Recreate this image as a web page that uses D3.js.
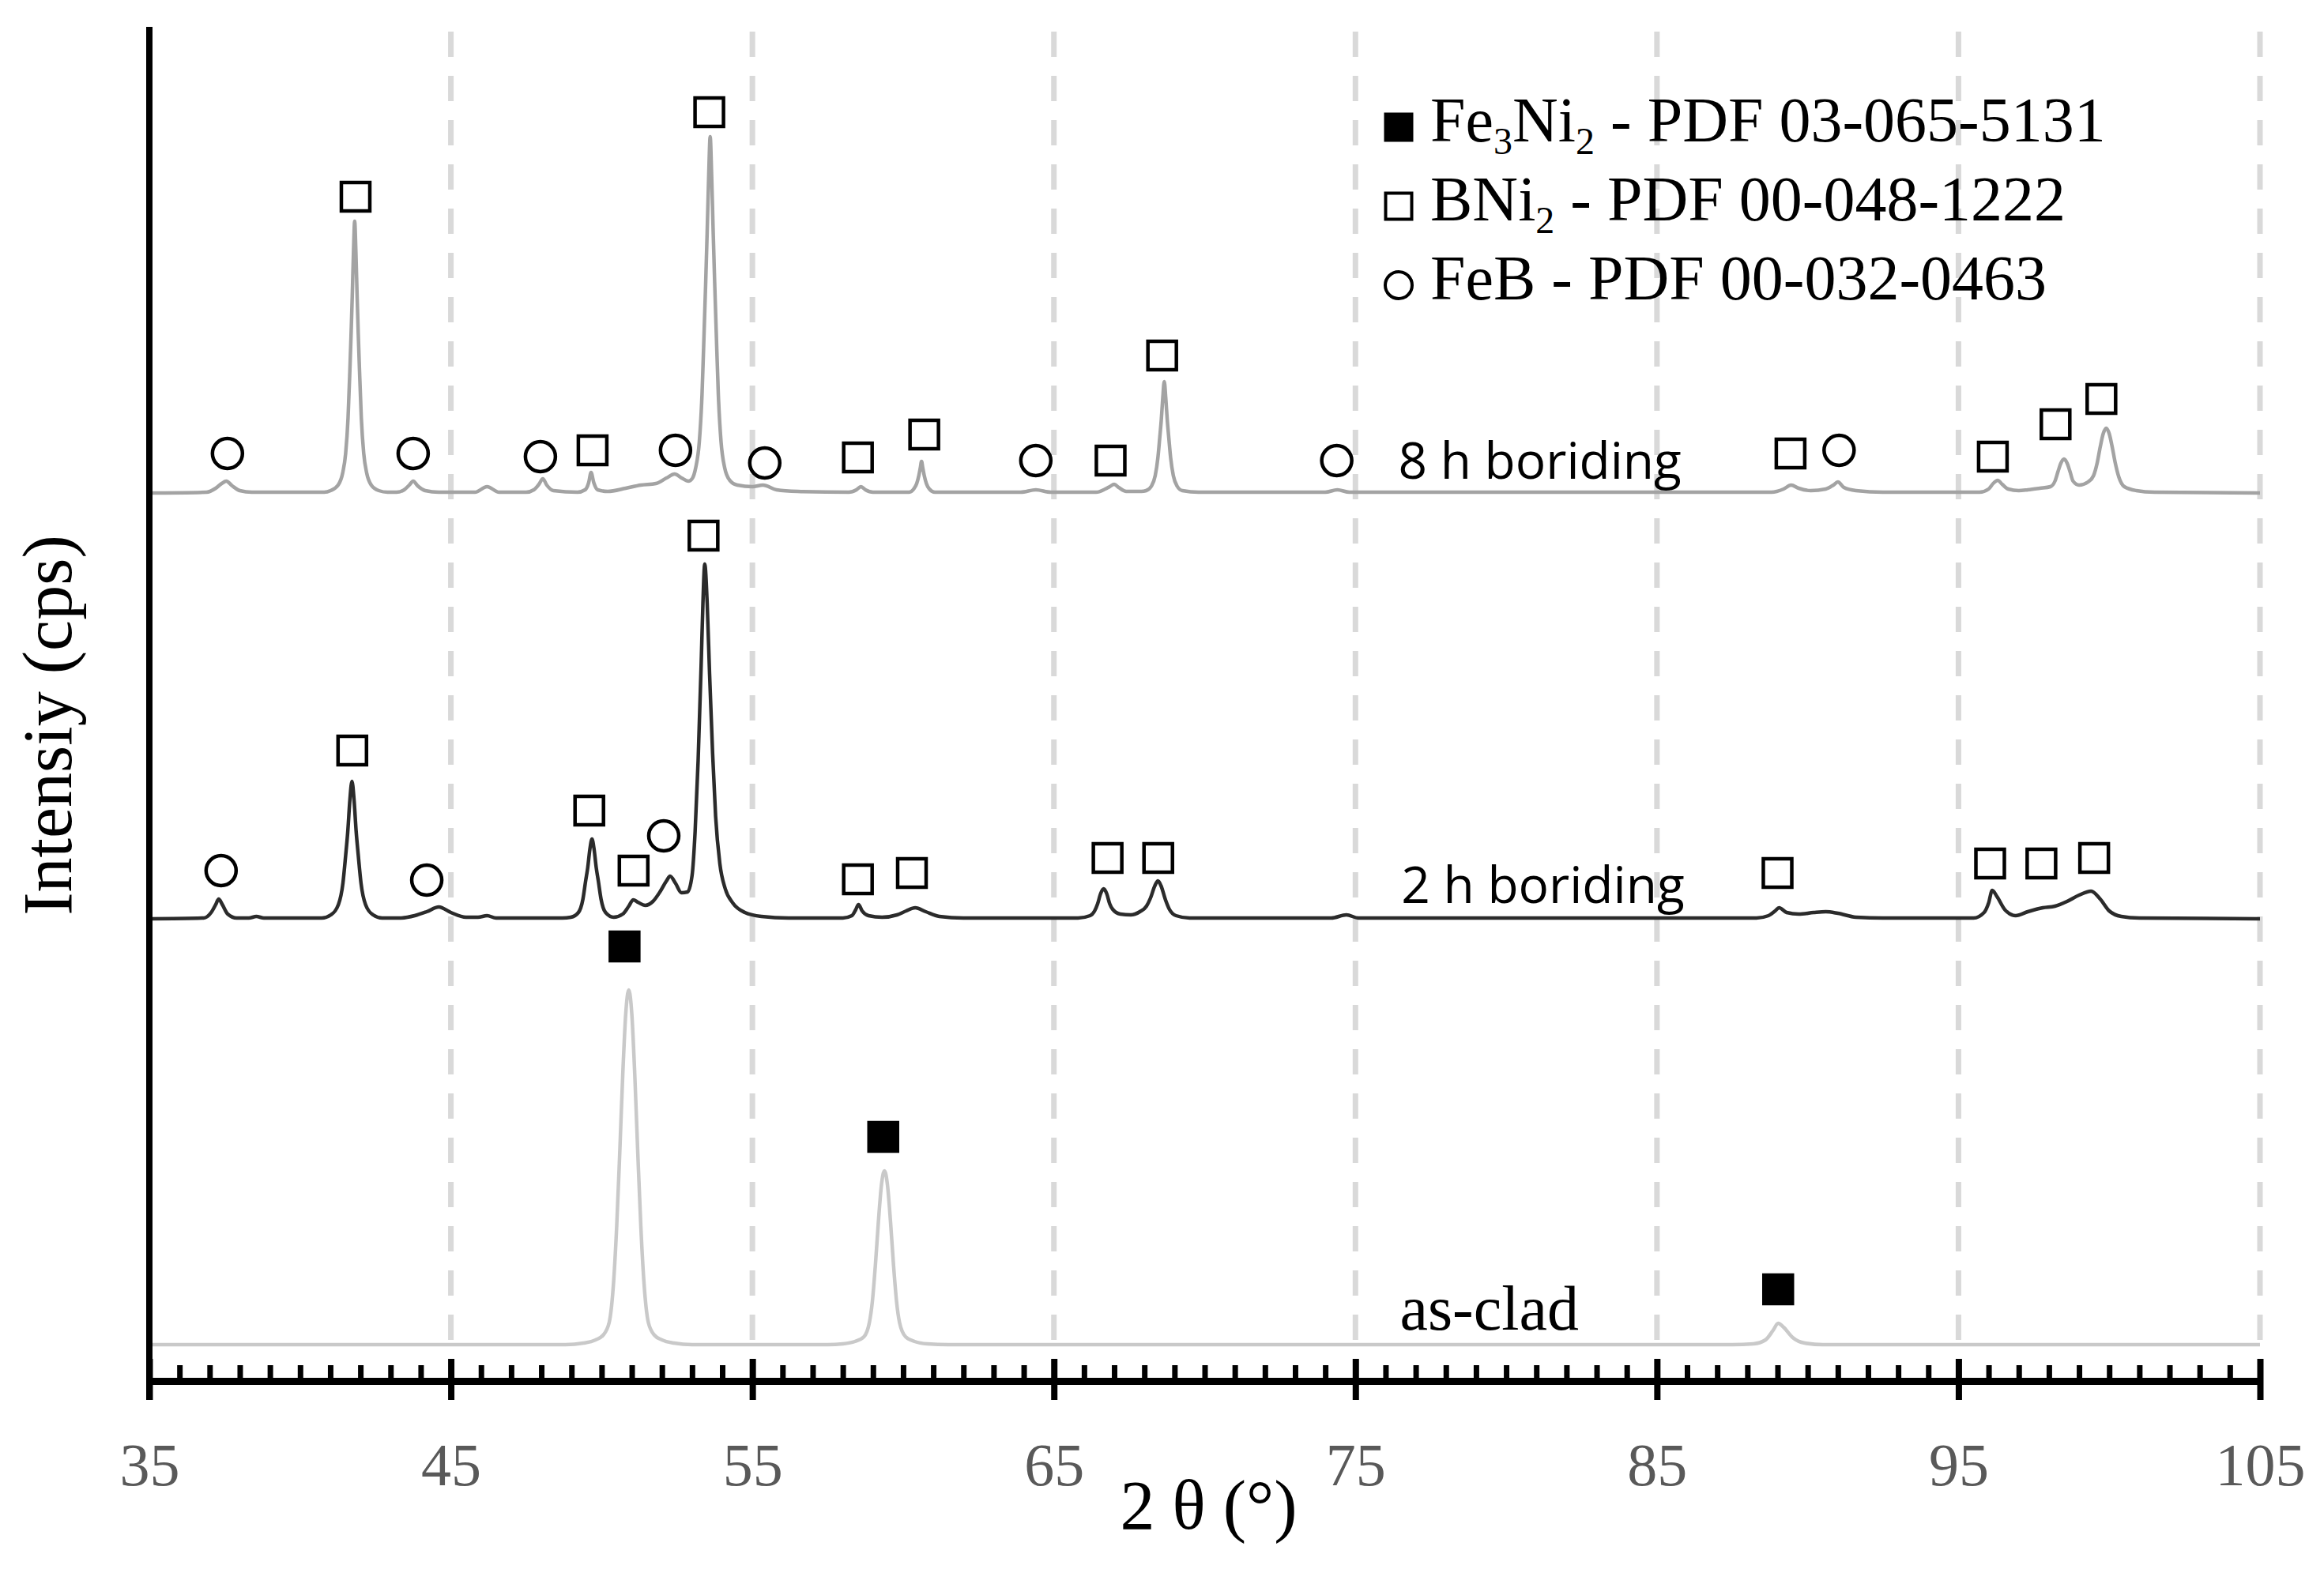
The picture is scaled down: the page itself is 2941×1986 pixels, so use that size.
<!DOCTYPE html>
<html>
<head>
<meta charset="utf-8">
<script src="https://cdn.jsdelivr.net/npm/d3@7"></script>
<style>
  html, body { margin: 0; padding: 0; background: #fff; }
  svg { display: block; }
</style>
</head>
<body>
<svg id="chart"></svg>
<script>
const width = 2941;
const height = 1986;

// 2θ axis
const majorTicks = [35, 45, 55, 65, 75, 85, 95, 105];
const minorTicks = [];
for (let t = 36; t < 105; t++) if (t % 10 !== 5) minorTicks.push(t);

// vertical offset of each stacked pattern (cps)
const offsetAsClad = 0;
const offset2h = 539;
const offset8h = 1078;

// as-clad pattern [2θ, cps above its baseline]
const asClad = [
  [35, 0], [40, 0], [45, 0], [48.8, 0], [49.4, 2], [49.8, 6], [50.05, 12], [50.25, 28], [50.4, 81],
  [50.5, 150], [50.6, 242], [50.7, 341], [50.8, 419], [50.9, 449], [51.0, 419], [51.1, 341],
  [51.2, 242], [51.3, 150], [51.4, 81], [51.55, 28], [51.75, 12], [52.0, 6], [52.4, 2], [53, 0],
  [57.5, 0], [58.0, 1], [58.4, 4], [58.7, 10], [58.88, 28], [58.98, 55], [59.08, 101], [59.18, 156],
  [59.28, 202], [59.38, 220], [59.48, 202], [59.58, 156], [59.68, 101], [59.78, 55], [59.88, 28],
  [60.08, 10], [60.38, 4], [60.8, 1], [61.5, 0],
  [87.5, 0], [88.2, 1], [88.6, 6], [88.85, 18], [89.02, 27], [89.2, 22], [89.5, 9], [89.9, 2], [90.5, 0],
  [105, 0]
];

// 2 h boriding pattern
const boride2h = [
  [35, 0], [36.8, 1], [37.05, 8], [37.2, 18], [37.3, 25], [37.42, 18], [37.6, 6], [37.9, 1],
  [38.3, 1], [38.55, 3], [38.8, 1], [40.72, 1],
  [41.02, 5], [41.27, 18], [41.42, 45], [41.51, 80], [41.58, 110], [41.65, 150], [41.72, 174],
  [41.79, 150], [41.86, 110], [41.93, 80], [42.02, 45], [42.17, 18], [42.42, 5], [42.72, 1],
  [43.3, 1], [43.8, 4], [44.2, 9], [44.6, 15], [45.0, 8], [45.5, 2], [45.9, 2], [46.2, 4], [46.5, 1],
  [48.7, 1], [48.98, 2], [49.23, 8], [49.38, 25], [49.47, 48], [49.54, 65], [49.61, 88], [49.68, 101],
  [49.75, 88], [49.82, 65], [49.89, 48], [49.98, 25], [50.13, 8], [50.4, 2],
  [50.7, 6], [50.9, 16], [51.05, 24], [51.2, 21], [51.45, 17], [51.7, 22], [51.95, 35], [52.15, 48],
  [52.27, 54], [52.45, 45], [52.65, 33], [52.85, 34], [53.0, 55], [53.1, 110], [53.2, 200],
  [53.3, 320], [53.36, 400], [53.42, 449], [53.5, 400], [53.58, 310], [53.68, 210], [53.78, 130],
  [53.92, 70], [54.1, 38], [54.35, 20], [54.75, 8], [55.3, 3], [56.2, 1],
  [58.0, 1], [58.3, 4], [58.42, 11], [58.52, 18], [58.64, 10], [58.85, 4], [59.3, 2], [59.8, 5],
  [60.1, 10], [60.4, 14], [60.75, 9], [61.2, 3], [62, 1],
  [65.8, 1], [66.2, 4], [66.35, 10], [66.45, 19], [66.55, 32], [66.65, 38], [66.75, 32], [66.85, 19],
  [66.95, 12], [67.2, 6], [67.55, 5], [67.85, 9], [68.07, 16], [68.2, 26], [68.35, 42], [68.45, 48],
  [68.55, 42], [68.7, 24], [68.83, 12], [69.05, 4], [69.5, 1], [70.5, 1],
  [74.2, 1], [74.7, 5], [75.1, 1],
  [88.3, 1], [88.7, 4], [88.92, 10], [89.05, 14], [89.3, 8], [89.7, 6], [90.2, 8], [90.6, 9],
  [91.0, 7], [91.6, 2], [92.5, 1],
  [95.5, 1], [95.85, 8], [96.0, 20], [96.12, 36], [96.28, 28], [96.55, 11], [96.9, 4], [97.3, 9],
  [97.8, 14], [98.2, 16], [98.6, 22], [99.0, 30], [99.4, 35], [99.7, 25], [100.0, 10], [100.4, 3],
  [101, 1], [105, 0]
];

// 8 h boriding pattern
const boride8h = [
  [35, 0], [36.9, 1], [37.2, 6], [37.4, 12], [37.55, 15], [37.75, 9], [38.0, 3], [38.4, 1], [40.8, 1],
  [41.01, 3], [41.26, 10], [41.41, 25], [41.51, 50], [41.59, 95], [41.65, 155], [41.69, 200],
  [41.73, 250], [41.77, 305], [41.81, 344], [41.85, 305], [41.89, 250], [41.93, 200], [41.97, 155],
  [42.03, 95], [42.11, 50], [42.21, 25], [42.36, 10], [42.61, 3], [42.9, 1],
  [43.2, 1], [43.45, 4], [43.62, 10], [43.75, 15], [43.9, 9], [44.15, 3], [44.6, 1],
  [45.8, 1], [46.2, 8], [46.6, 1], [47.5, 1], [47.75, 4], [47.92, 11], [48.05, 18], [48.18, 10],
  [48.4, 3], [49.2, 1], [49.45, 4], [49.57, 13], [49.65, 26], [49.74, 13], [49.87, 4], [50.2, 2],
  [50.8, 6], [51.3, 10], [51.8, 12], [52.15, 19], [52.42, 24], [52.65, 19], [52.88, 15],
  [53.0, 18], [53.12, 32], [53.24, 65], [53.33, 125], [53.4, 205], [53.45, 265], [53.5, 330],
  [53.55, 400], [53.6, 451], [53.65, 400], [53.7, 330], [53.75, 265], [53.8, 205], [53.87, 125],
  [53.96, 65], [54.08, 32], [54.25, 16], [54.5, 10], [55.0, 8], [55.35, 10], [55.8, 4], [56.5, 2],
  [58.2, 1], [58.45, 4], [58.6, 8], [58.75, 4], [59.0, 1],
  [60.2, 1], [60.35, 5], [60.45, 12], [60.52, 22], [60.57, 32], [60.61, 40], [60.65, 32],
  [60.7, 22], [60.77, 12], [60.87, 5], [61.05, 1],
  [63.9, 1], [64.4, 4], [64.9, 1], [66.4, 1], [66.7, 5], [66.85, 8], [67.0, 11], [67.15, 7],
  [67.4, 2], [67.9, 2],
  [68.06, 3], [68.24, 9], [68.36, 22], [68.45, 45], [68.51, 70], [68.56, 92], [68.61, 120],
  [68.66, 141], [68.71, 120], [68.76, 92], [68.81, 70], [68.87, 45], [68.96, 22], [69.08, 9],
  [69.26, 3], [69.8, 1],
  [74.0, 1], [74.4, 4], [74.8, 1],
  [88.8, 1], [89.2, 5], [89.45, 10], [89.7, 6], [90.1, 3], [90.6, 5], [90.85, 10], [91.0, 14],
  [91.2, 7], [91.6, 3], [92.5, 1],
  [95.7, 1], [96.0, 5], [96.15, 12], [96.3, 16], [96.45, 11], [96.65, 5], [97.0, 3], [97.3, 4],
  [97.7, 6], [98.05, 8], [98.2, 15], [98.3, 27], [98.4, 38], [98.5, 43], [98.6, 38], [98.7, 27],
  [98.8, 15], [99.0, 10], [99.3, 14], [99.48, 22], [99.6, 38], [99.7, 58], [99.8, 75], [99.9, 82],
  [100.0, 75], [100.1, 58], [100.2, 38], [100.32, 20], [100.5, 8], [100.9, 3], [101.5, 1],
  [105, 0]
];

// phase markers [2θ, cps above pattern baseline, phase]
// f = Fe3Ni2, s = BNi2, c = FeB
const markers8h = [
  [37.59, 50, "c"], [41.84, 375, "s"], [43.75, 50, "c"], [47.97, 46, "c"], [49.7, 54, "s"],
  [52.45, 54, "c"], [53.57, 482, "s"], [55.41, 38, "c"], [58.5, 45, "s"], [60.7, 74, "s"],
  [64.4, 41, "c"], [66.88, 41, "s"], [68.59, 174, "s"], [74.38, 41, "c"], [89.43, 50, "s"],
  [91.04, 54, "c"], [96.14, 46, "s"], [98.22, 87, "s"], [99.74, 119, "s"]
];
const markers2h = [
  [37.38, 61, "c"], [41.73, 213, "s"], [44.2, 49, "c"], [49.59, 137, "s"], [51.06, 61, "s"],
  [52.06, 105, "c"], [53.38, 485, "s"], [58.5, 50, "s"], [60.29, 58, "s"], [66.78, 77, "s"],
  [68.46, 77, "s"], [89.0, 58, "s"], [96.05, 70, "s"], [97.75, 70, "s"], [99.5, 77, "s"]
];
const markersAsClad = [
  [50.76, 504, "f"], [59.34, 263, "f"], [89.02, 70, "f"]
];

// pattern names, placed at [2θ, cps above baseline]
const patternLabels = [
  { text: "8 h boriding", x: 76.42, y: 18, offset: offset8h, font: "'Open Sans', sans-serif", size: 64 },
  { text: "2 h boriding", x: 76.52, y: 20, offset: offset2h, font: "'Open Sans', sans-serif", size: 64 },
  { text: "as-clad", x: 76.47, y: 19, offset: offsetAsClad, font: "'Liberation Serif', serif", size: 80 }
];

// legend entries: [phase, text pieces]
const legendItems = [
  ["f", [["Fe", 0], ["3", 1], ["Ni", 0], ["2", 1], [" - PDF 03-065-5131", 0]]],
  ["s", [["BNi", 0], ["2", 1], [" - PDF 00-048-1222", 0]]],
  ["c", [["FeB - PDF 00-032-0463", 0]]]
];

const svg = d3.select("#chart")
  .attr("width", width)
  .attr("height", height)
  .attr("viewBox", `0 0 ${width} ${height}`);

svg.append("rect").attr("width", width).attr("height", height).attr("fill", "#fff");

const x = d3.scaleLinear().domain([35, 105]).range([189, 2860]);
const y = d3.scaleLinear().domain([0, 1662]).range([1702, 40]);
const axisY = 1748;

// dashed vertical gridlines
svg.append("g")
  .selectAll("line")
  .data(majorTicks.slice(1))
  .join("line")
  .attr("x1", d => x(d)).attr("x2", d => x(d))
  .attr("y1", y(1662)).attr("y2", y(0))
  .attr("stroke", "#d9d9d9")
  .attr("stroke-width", 7)
  .attr("stroke-dasharray", "32 24");

// patterns
const line = d3.line()
  .x(d => x(d[0]))
  .y(d => y(d[1]))
  .curve(d3.curveMonotoneX);

const patterns = [
  { data: asClad, offset: offsetAsClad, color: "#c9c9c9" },
  { data: boride2h, offset: offset2h, color: "#2b2b2b" },
  { data: boride8h, offset: offset8h, color: "#a3a3a3" }
];

svg.append("g")
  .selectAll("path")
  .data(patterns)
  .join("path")
  .attr("d", p => line(p.data.map(d => [d[0], d[1] + p.offset])))
  .attr("fill", "none")
  .attr("stroke", p => p.color)
  .attr("stroke-width", 4.5)
  .attr("stroke-linejoin", "round");

// phase markers
function drawMarker(g, kind, cx, cy, size, sw) {
  if (kind === "c") {
    g.append("ellipse")
      .attr("cx", cx).attr("cy", cy)
      .attr("rx", size / 2).attr("ry", size / 2)
      .attr("fill", "none").attr("stroke", "#000").attr("stroke-width", sw);
  } else {
    g.append("rect")
      .attr("x", cx - size / 2).attr("y", cy - size / 2)
      .attr("width", size).attr("height", size)
      .attr("fill", kind === "f" ? "#000" : "none")
      .attr("stroke", "#000").attr("stroke-width", sw);
  }
}

const markerG = svg.append("g");
[[markers8h, offset8h], [markers2h, offset2h], [markersAsClad, offsetAsClad]].forEach(([list, off]) => {
  list.forEach(m => drawMarker(markerG, m[2], x(m[0]), y(m[1] + off), m[2] === "c" ? 38 : 36, 4.5));
});

// pattern labels
svg.append("g")
  .selectAll("text")
  .data(patternLabels)
  .join("text")
  .attr("x", d => x(d.x))
  .attr("y", d => y(d.y + d.offset))
  .attr("font-family", d => d.font)
  .attr("font-size", d => d.size)
  .attr("fill", "#000")
  .text(d => d.text);

// x axis: major ticks below with labels, stubs above, minor ticks above
const gx = svg.append("g").attr("transform", `translate(0,${axisY})`);

gx.append("g")
  .call(d3.axisTop(x).tickValues(minorTicks).tickSize(20).tickFormat(""))
  .call(g => g.select(".domain").remove())
  .call(g => g.selectAll(".tick line").attr("stroke", "#000").attr("stroke-width", 7));

gx.append("g")
  .call(d3.axisTop(x).tickValues(majorTicks).tickSize(28).tickFormat(""))
  .call(g => g.select(".domain").remove())
  .call(g => g.selectAll(".tick line").attr("stroke", "#000").attr("stroke-width", 8));

gx.append("g")
  .call(d3.axisBottom(x).tickValues(majorTicks).tickSize(24).tickSizeOuter(0).tickFormat(d3.format("d")))
  .call(g => g.select(".domain").attr("stroke", "#000").attr("stroke-width", 9))
  .call(g => g.selectAll(".tick line").attr("stroke", "#000").attr("stroke-width", 8))
  .call(g => g.selectAll(".tick text")
    .attr("y", 132).attr("dy", null)
    .attr("font-family", "'Liberation Serif', serif")
    .attr("font-size", 76)
    .attr("fill", "#595959"));

// y axis (no ticks)
svg.append("line")
  .attr("x1", x(35)).attr("x2", x(35))
  .attr("y1", y(1662) - 6).attr("y2", axisY + 24)
  .attr("stroke", "#000").attr("stroke-width", 8);

// axis titles
svg.append("text")
  .attr("x", (x(35) + x(105)) / 2 + 5)
  .attr("y", 1935)
  .attr("text-anchor", "middle")
  .attr("font-family", "'Liberation Serif', serif")
  .attr("font-size", 88)
  .attr("fill", "#000")
  .text("2 θ (°)");

svg.append("text")
  .attr("transform", "translate(90,918) rotate(-90)")
  .attr("text-anchor", "middle")
  .attr("font-family", "'Liberation Serif', serif")
  .attr("font-size", 88)
  .attr("fill", "#000")
  .text("Intensiy (cps)");

// legend
const legend = svg.append("g").attr("transform", "translate(1770,0)");
legendItems.forEach((item, i) => {
  const base = 179 + i * 100;
  drawMarker(legend, item[0], 0, base - 18, item[0] === "c" ? 34 : 33, 4);
  const t = legend.append("text")
    .attr("x", 40).attr("y", base)
    .attr("font-family", "'Liberation Serif', serif")
    .attr("font-size", 80)
    .attr("fill", "#000");
  item[1].forEach(([s, sub]) => {
    if (sub) {
      t.append("tspan").attr("font-size", 48).attr("dy", 16).text(s);
    } else {
      const ts = t.append("tspan").text(s);
      if (t.selectAll("tspan").size() > 1) ts.attr("dy", -16);
    }
  });
});
</script>
</body>
</html>
